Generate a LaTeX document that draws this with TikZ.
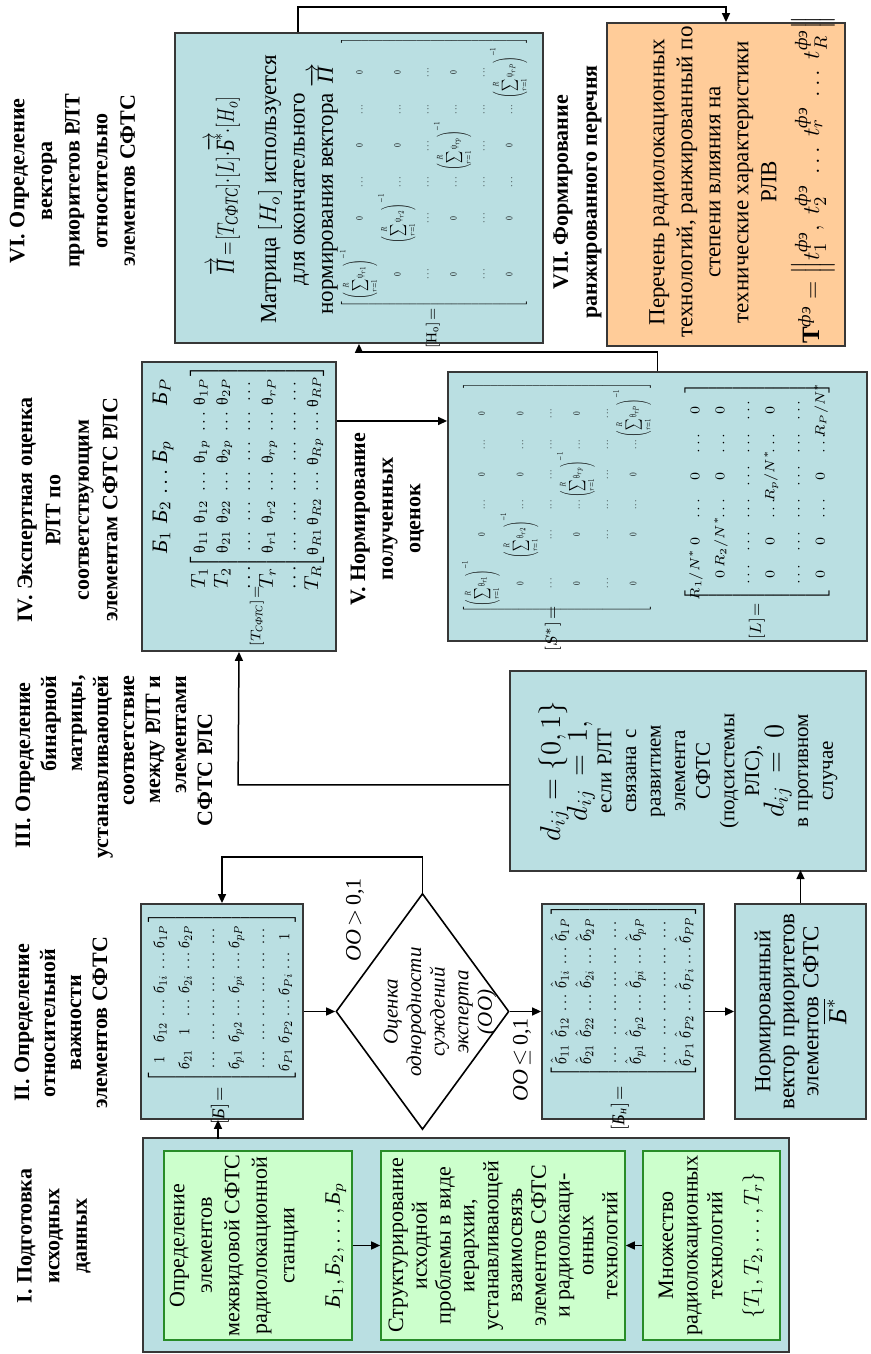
\documentclass[tikz,border=0pt]{standalone}
\usepackage{amsmath}
\usepackage{exscale}
\usepackage{array}
\usepackage{fontspec}
\setmainfont{Liberation Serif}
\usetikzlibrary{shapes.geometric,arrows.meta,calc}
\definecolor{boxblue}{RGB}{186,223,226}
\definecolor{gfill}{RGB}{204,255,204}
\definecolor{gline}{RGB}{40,140,40}
\definecolor{ofill}{RGB}{255,204,153}
\definecolor{bline}{RGB}{55,55,55}
\let\myorigselectfont\selectfont
\newcommand{\cyB}{\text{\itshape Б}}
\newcommand{\cyb}{\text{\itshape б}}
\newcommand{\cyP}{\text{\itshape П}}
\newcommand{\cyfe}{\text{\itshape фэ}}
\newcommand{\upth}{\text{θ}}
\newcommand{\upps}{\text{ψ}}
\newcommand{\hbb}[1]{\hat{\cyb}_{#1}}
\newcommand{\Ssum}[2]{\left(\displaystyle\sum_{r=1}^{R}#1_{r#2}\right)^{-1}}
\newcommand{\Tl}[1]{\mbox{\fontsize{10}{10}\selectfont$#1$}}
\newcommand{\myfs}[1]{\fontsize{#1}{12.3}\selectfont}
\newcommand{\boxfont}[2]{\let\selectfont\myorigselectfont\normalfont\fontsize{#1}{#2}\selectfont}
\newsavebox\bxMB
\newsavebox\bxMBn
\newsavebox\bxMS
\newsavebox\bxML
\newsavebox\bxMH
\tikzset{
  txt/.style={font=\fontsize{11.5}{13.8}\selectfont, align=center, inner sep=0pt},
  head/.style={font=\bfseries\fontsize{11}{13.8}\selectfont, align=center, inner sep=0pt},
  box/.style={draw=bline, line width=0.9pt, fill=boxblue, inner sep=0pt},
  gbox/.style={draw=gline, line width=0.8pt, fill=gfill, inner sep=0pt, align=center},
  obox/.style={draw=bline, line width=0.9pt, fill=ofill, inner sep=0pt},
  arr/.style={-{Triangle[length=4.5pt,width=4pt]}, line width=0.75pt, draw=black},
  mat/.style={inner sep=0pt, font=\fontsize{8}{9.6}\selectfont},
}
\begin{document}
\begin{tikzpicture}[x=0.5pt, y=0.5pt, rotate=90, transform shape]
\useasboundingbox (0,0) rectangle (1354,871);

% ---------- matrices typeset into boxes ----------
\sbox\bxMB{\boxfont{8}{9.6}\setlength\arraycolsep{1.3pt}\renewcommand\arraystretch{1.35}%
$\left[\begin{array}{cccccc}
1 & \cyb_{12} & \ldots & \cyb_{1i} & \ldots & \cyb_{1P}\\
\cyb_{21} & 1 & \ldots & \cyb_{2i} & \ldots & \cyb_{2P}\\
\ldots & \ldots & \ldots & \ldots & \ldots & \ldots\\
\cyb_{p1} & \cyb_{p2} & \ldots & \cyb_{pi} & \ldots & \cyb_{pP}\\
\ldots & \ldots & \ldots & \ldots & \ldots & \ldots\\
\cyb_{P1} & \cyb_{P2} & \ldots & \cyb_{Pi} & \ldots & 1
\end{array}\right]$}%
\sbox\bxMBn{\boxfont{8}{9.6}\setlength\arraycolsep{1.2pt}\renewcommand\arraystretch{1.28}%
$\left[\begin{array}{cccccc}
\hbb{11} & \hbb{12} & \ldots & \hbb{1i} & \ldots & \hbb{1P}\\
\hbb{21} & \hbb{22} & \ldots & \hbb{2i} & \ldots & \hbb{2P}\\
\ldots & \ldots & \ldots & \ldots & \ldots & \ldots\\
\hbb{p1} & \hbb{p2} & \ldots & \hbb{pi} & \ldots & \hbb{pP}\\
\ldots & \ldots & \ldots & \ldots & \ldots & \ldots\\
\hbb{P1} & \hbb{P2} & \ldots & \hbb{Pi} & \ldots & \hbb{PP}
\end{array}\right]$}%
\sbox\bxMS{\boxfont{6}{7.2}\setlength\arraycolsep{1.2pt}\renewcommand\arraystretch{1.5}%
$\left[\begin{array}{cccccc}
\Ssum{\upth}{1} & 0 & \ldots & 0 & \ldots & 0\\[2pt]
0 & \Ssum{\upth}{2} & \ldots & 0 & \ldots & 0\\[2pt]
\ldots & \ldots & \ldots & \ldots & \ldots & \ldots\\
0 & 0 & \ldots & \Ssum{\upth}{p} & \ldots & 0\\[2pt]
\ldots & \ldots & \ldots & \ldots & \ldots & \ldots\\
0 & 0 & \ldots & 0 & \ldots & \Ssum{\upth}{P}
\end{array}\right]$}%
\sbox\bxML{\boxfont{7}{8.4}\setlength\arraycolsep{2.1pt}\renewcommand\arraystretch{1.55}%
$\left[\begin{array}{*{6}{w{c}{12pt}}}
R_1/N^{*} & 0 & \ldots & 0 & \ldots & 0\\
0 & R_2/N^{*} & \ldots & 0 & \ldots & 0\\
\ldots & \ldots & \ldots & \ldots & \ldots & \ldots\\
0 & 0 & \ldots & R_p/N^{*} & \ldots & 0\\
\ldots & \ldots & \ldots & \ldots & \ldots & \ldots\\
0 & 0 & \ldots & 0 & \ldots & R_P/N^{*}
\end{array}\right]$}%
\sbox\bxMH{\boxfont{6}{7.2}\setlength\arraycolsep{3pt}\renewcommand\arraystretch{1.5}%
$\left[\begin{array}{cccccc}
\Ssum{\upps}{1} & 0 & \ldots & 0 & \ldots & 0\\[2pt]
0 & \Ssum{\upps}{2} & \ldots & 0 & \ldots & 0\\[2pt]
\ldots & \ldots & \ldots & \ldots & \ldots & \ldots\\
0 & 0 & \ldots & \Ssum{\upps}{p} & \ldots & 0\\[2pt]
\ldots & \ldots & \ldots & \ldots & \ldots & \ldots\\
0 & 0 & \ldots & 0 & \ldots & \Ssum{\upps}{P}
\end{array}\right]$}%
\pgfmathsetmacro\sxB{85/\the\wd\bxMB}
\pgfmathsetmacro\syB{75/(\the\ht\bxMB+\the\dp\bxMB)}
\pgfmathsetmacro\sxBn{86.5/\the\wd\bxMBn}
\pgfmathsetmacro\syBn{74.5/(\the\ht\bxMBn+\the\dp\bxMBn)}
\pgfmathsetmacro\sxS{115/\the\wd\bxMS}
\pgfmathsetmacro\syS{95/(\the\ht\bxMS+\the\dp\bxMS)}
\pgfmathsetmacro\sxL{109.5/\the\wd\bxML}
\pgfmathsetmacro\syL{75/(\the\ht\bxML+\the\dp\bxML)}
\pgfmathsetmacro\sxH{135/\the\wd\bxMH}
\pgfmathsetmacro\syH{94/(\the\ht\bxMH+\the\dp\bxMH)}

% ---------- headings ----------
\node[head] (h1) at (118,817) {I. Подготовка\\исходных\\данных};
\node[head, font=\bfseries\fontsize{11}{13}\selectfont] (h2) at (331,810) {II. Определение\\относительной\\важности\\элементов СФТС};
\node[head, align=right, anchor=east, font=\bfseries\fontsize{11}{13}\selectfont] (h3) at (679,757)
 {III. Определение\hspace*{3.5pt}\\бинарной\hspace*{5pt}\\матрицы,\hspace*{4pt}\\устанавливающей\\соответствие\hspace*{6.5pt}\\между РЛТ и\hspace*{12.5pt}\\элементами\hspace*{34pt}\\СФТС РЛС\hspace*{19pt}};
\node[head, font=\bfseries\fontsize{11}{14.2}\selectfont] (h4) at (844,803.5) {IV. Экспертная оценка\\РЛТ по\\соответствующим\\элементам СФТС РЛС};
\node[head] (h5) at (835,483.5) {V. Нормирование\\полученных\\оценок};
\node[head] (h6) at (1173,798.5) {VI. Определение\\вектора\\приоритетов РЛТ\\относительно\\элементов СФТС};
\node[head, font=\bfseries\fontsize{11}{14.5}\selectfont] (h7) at (1162,293.5) {VII. Формирование\\ранжированного перечня};

% ---------- block I ----------
\node[box, minimum width=107pt, minimum height=323pt] (b1) at (109,405) {};
\node[gbox, minimum width=94.5pt, minimum height=94pt, font=\fontsize{11}{13.75}\selectfont] (g1) at (108.5,613)
 {Определение\\элементов\\межвидовой СФТС\\радиолокационной\\станции\\[9pt]$\cyB_1,\cyB_2,\ldots,\cyB_p$};
\node[gbox, minimum width=94.5pt, minimum height=122pt, font=\fontsize{11}{11.9}\selectfont] (g2) at (108.5,368)
 {Структурирование\\исходной\\проблемы в виде\\иерархии,\\устанавливающей\\взаимосвязь\\элементов СФТС\\и радиолокаци-\\онных\\технологий};
\node[gbox, minimum width=94.5pt, minimum height=68.5pt, font=\fontsize{11}{12.3}\selectfont] (g3) at (108.5,159.5)
 {Множество\\радиолокационных\\технологий\\[6pt]$\{T_1,T_2,\ldots,T_r\}$};

% ---------- block II ----------
\node[box, minimum width=107.5pt, minimum height=81pt] (bb) at (342.5,649) {};
\begin{scope}[shift={(356,649)}]
\node[inner sep=0pt, xscale=\sxB, yscale=\syB] (bmat) at (0,0) {\usebox\bxMB};
\end{scope}
\node[mat, font=\fontsize{9}{10}\selectfont] (blab) at (248,651) {$[\cyB]\!=$};

\node[diamond, draw=black, line width=0.8pt, fill=white, minimum width=118pt, minimum height=86.5pt, inner sep=0pt] (dia) at (342.5,448.5) {};
\node[txt, font=\itshape\fontsize{10.5}{11.8}\selectfont] (dtx) at (342,431) {Оценка\\однородности\\суждений\\эксперта\\(ОО)};
\node[txt, font=\fontsize{11}{13}\selectfont] (lg1) at (434,516) {{\itshape ОО}\,$>$\,0,1};
\node[txt, font=\fontsize{11}{13}\selectfont] (lg2) at (294,349) {{\itshape ОО}\,$\leq$\,0,1};

\node[box, minimum width=107.5pt, minimum height=81pt] (bn) at (342.5,248) {};
\begin{scope}[shift={(362.5,247.5)}]
\node[inner sep=0pt, xscale=\sxBn, yscale=\syBn] (bnmat) at (0,0) {\usebox\bxMBn};
\end{scope}
\node[mat, font=\fontsize{9}{10}\selectfont] (bnlab) at (246,251) {$[\cyB_{\text{\itshape н}}]\!=$};

\node[box, minimum width=107.5pt, minimum height=65.5pt, text width=104pt, align=center, font=\fontsize{11.5}{12}\selectfont] (nv) at (342.5,70.5)
 {Нормированный\\вектор приоритетов\\элементов СФТС\\[1pt]{\fontsize{13}{13}\selectfont$\overline{\cyB^{*}}$}};

% ---------- block III ----------
\node[box, minimum width=100pt, minimum height=178pt, text width=98pt, align=center, font=\fontsize{10.5}{12.3}\selectfont] (dij) at (583,183)
 {\lineskiplimit=-30pt\lineskip=0pt\relax
 {\myfs{14}$d_{ij}\!=\!\{0,1\}$}\\[1pt]
 {\myfs{14}$d_{ij}\!=\!1,$}\\
 если РЛТ\\связана с\\развитием\\элемента\\СФТС\\(подсистемы\\РЛС),\\
 {\myfs{14}$d_{ij}\!=\!0$}\\
 в противном\\случае};

% ---------- block IV ----------
\node[box, minimum width=144.5pt, minimum height=97pt] (tb) at (847.5,632) {};
\node[mat] (tmat) at (887,614) {\setlength\arraycolsep{2.25pt}\renewcommand\arraystretch{1.18}%
$\left[\begin{array}{*{6}{w{c}{10.5pt}}}
\upth_{11} & \upth_{12} & \ldots & \upth_{1p} & \ldots & \upth_{1P}\\
\upth_{21} & \upth_{22} & \ldots & \upth_{2p} & \ldots & \upth_{2P}\\
\ldots & \ldots & \ldots & \ldots & \ldots & \ldots\\
\upth_{r1} & \upth_{r2} & \ldots & \upth_{rp} & \ldots & \upth_{rP}\\
\ldots & \ldots & \ldots & \ldots & \ldots & \ldots\\
\upth_{R1} & \upth_{R2} & \ldots & \upth_{Rp} & \ldots & \upth_{RP}
\end{array}\right]$};
\node[mat, font=\fontsize{11}{13}\selectfont] (thead) at (887,709) {\setlength\arraycolsep{2.25pt}%
$\begin{array}{*{6}{w{c}{10.5pt}}}\cyB_1 & \cyB_2 & \ldots & \cyB_p & & \cyB_P\end{array}$};
\node[mat] (trow) at (776,614) {\setlength\arraycolsep{0pt}\renewcommand\arraystretch{1.18}%
$\begin{array}{c}\Tl{T_1}\\ \Tl{T_2}\\ \Tl{\ldots}\\ \Tl{T_r}\\ \Tl{\ldots}\\ \Tl{T_R}\end{array}$};
\node[mat, font=\fontsize{7}{8}\selectfont] (tlab) at (738,614) {$[T_{\scriptscriptstyle\text{\itshape СФТС}}]\!=$};

% ---------- block V ----------
\node[box, minimum width=134.5pt, minimum height=209.5pt] (vb) at (847.5,213.5) {};
\begin{scope}[shift={(856,314)}]
\node[inner sep=0pt, xscale=\sxS, yscale=\syS] (smat) at (0,0) {\usebox\bxMS};
\end{scope}
\node[mat, font=\fontsize{8}{9}\selectfont] (slab) at (725,318) {$[S^{*}]\!=$};
\begin{scope}[shift={(861.5,114)}]
\node[inner sep=0pt, xscale=\sxL, yscale=\syL] (lmat) at (0,0) {\usebox\bxML};
\end{scope}
\node[mat, font=\fontsize{8}{9}\selectfont] (llab) at (733,114) {$[L]\!=$};

% ---------- block VI ----------
\node[box, minimum width=155pt, minimum height=184pt] (hb) at (1166,512) {};
\begin{scope}[shift={(1168,648)}]
\node[txt, font=\fontsize{13}{15}\selectfont, xscale=0.74] (pform) at (0,0)
 {$\overrightarrow{\cyP}\!=\![T_{\text{\itshape СФТС}}]{\cdot}[L]{\cdot}\overrightarrow{\cyB^{*}}{\cdot}[H_o]$};
\end{scope}
\node[txt, font=\fontsize{11.5}{14.2}\selectfont] (ptxt) at (1165,573)
 {Матрица $[H_o]$ используется\\для окончательного\\нормирования вектора $\overrightarrow{\cyP}$};
\begin{scope}[shift={(1181,437)}]
\node[inner sep=0pt, xscale=\sxH, yscale=\syH] (hmat) at (0,0) {\usebox\bxMH};
\end{scope}
\node[mat, font=\fontsize{7.5}{8}\selectfont] (hlab) at (1026,438) {$[\mathrm{H_o}]\!=$};

% ---------- block VII ----------
\node[obox, minimum width=161.5pt, minimum height=119pt] (ob) at (1169.5,145) {};
\node[txt, font=\fontsize{11.5}{14}\selectfont] (otxt) at (1172,158)
 {Перечень радиолокационных\\технологий, ранжированный по\\степени влияния на\\технические характеристики\\РЛВ};
\node[txt, font=\fontsize{12.5}{15}\selectfont] (oform) at (1174,58)
 {$\mathbf{T}^{\cyfe}=\left\|t_1^{\cyfe},\ t_2^{\cyfe}\ \ldots\ t_r^{\cyfe}\ \ldots\ t_R^{\cyfe}\right\|$};

% ---------- connectors ----------
\draw[arr] (g1.south) -- (g2.north);
\draw[arr] (g3.north) -- (g2.south);
\draw[arr] ($(bb.west)+(-19,4)$) -- ($(bb.west)+(0,4)$);
\draw[arr] (bb.south) -- (dia.north);
\draw[arr] (dia.south) -- (bn.north);
\draw[arr] (dia.east) -- ++(35.5,0) -- ++(0,200.5) -- (bb.east);
\draw[arr] (bn.south) -- (nv.north);
\draw[arr] (nv.east) -- ($(nv.east)+(33,0)$);
\draw[arr] ($(dij.north)+(-14,0)$) -- ++(0,271) -- (tb.west);
\draw[arr] ($(tb.south)+(85.5,0)$) -- ($(vb.north)+(85.5,0)$);
\draw[arr] (vb.east) -- ++(19,0) -- ++(0,298.5) -- (hb.west);
\draw[arr] ($(hb.east)+(0,61)$) -- ++(25,0) -- ++(0,-428) -- (ob.east);
\end{tikzpicture}
\end{document}
